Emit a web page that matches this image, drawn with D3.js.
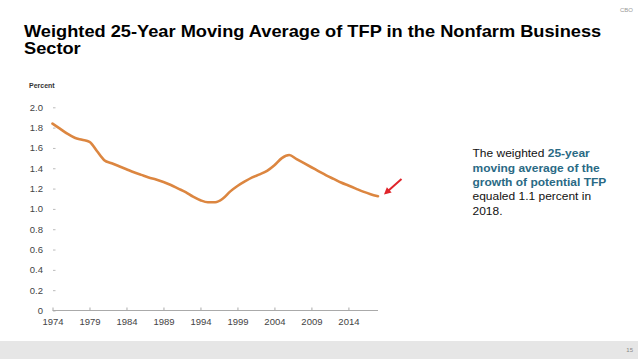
<!DOCTYPE html>
<html><head><meta charset="utf-8">
<script src="https://cdn.jsdelivr.net/npm/d3@7"></script>
<style>body{margin:0;background:#fff}svg{display:block;font-family:"Liberation Sans",Arial,sans-serif}</style>
</head><body>
<svg id="c" width="638" height="359"></svg>
<script>
const years = [1974,1975,1976,1977,1978,1979,1980,1981,1982,1983,1984,1985,1986,1987,1988,1989,1990,1991,1992,1993,1994,1995,1996,1997,1998,1999,2000,2001,2002,2003,2004,2005,2006,2007,2008,2009,2010,2011,2012,2013,2014,2015,2016,2017,2018];
const tfp = [1.84,1.79,1.74,1.70,1.68,1.66,1.57,1.48,1.45,1.42,1.39,1.36,1.335,1.31,1.29,1.265,1.235,1.20,1.165,1.12,1.085,1.065,1.065,1.10,1.17,1.225,1.27,1.31,1.34,1.375,1.43,1.50,1.53,1.49,1.45,1.41,1.37,1.33,1.295,1.26,1.23,1.20,1.17,1.145,1.125];
const xTicks = [1974,1979,1984,1989,1994,1999,2004,2009,2014];
const yTicks = [0,0.2,0.4,0.6,0.8,1.0,1.2,1.4,1.6,1.8,2.0];
const titleLines = ["Weighted 25-Year Moving Average of TFP in the Nonfarm Business","Sector"];
const yLabel = "Percent";

const svg = d3.select("#c");
const x = d3.scaleLinear().domain([1974,2018]).range([52.5,378]);
const y = d3.scaleLinear().domain([0,2]).range([310.5,107.3]);

// footer band
svg.append("rect").attr("x",0).attr("y",341).attr("width",638).attr("height",18).attr("fill","#e6e6e6");
svg.append("text").attr("x",633).attr("y",352).attr("text-anchor","end").attr("font-size",6).attr("fill","#888").text("15");
svg.append("text").attr("x",633).attr("y",12).attr("text-anchor","end").attr("font-size",6).attr("fill","#999").text("CBO");

// title
titleLines.forEach((t,i)=>{
  svg.append("text").attr("transform",`translate(24,${37+i*17}) scale(1.14,1)`)
    .attr("font-size",16).attr("font-weight","bold").attr("fill","#000").text(t);
});

// y label
svg.append("text").attr("x",29).attr("y",88).attr("font-size",7).attr("font-weight","bold").attr("fill","#333").text(yLabel);

// y axis
const ya = svg.append("g").attr("transform","translate(53,0)")
  .call(d3.axisRight(y).tickValues(yTicks).tickSize(2.5).tickFormat(d=>d===0?"0":d3.format(".1f")(d)));
ya.select(".domain").remove();
ya.selectAll(".tick line").attr("stroke","#bbb");
ya.selectAll(".tick text").attr("x",-10).attr("text-anchor","end").attr("font-size",9.5).attr("fill","#444").attr("font-family","Liberation Sans, Arial");

// x axis
const xa = svg.append("g").attr("transform",`translate(0,${y(0)})`)
  .call(d3.axisTop(x).tickValues(xTicks).tickSize(3).tickFormat(d3.format("d")));
xa.select(".domain").attr("stroke","#aaa").attr("d",`M${x(1974)},0H${x(2018)}`);
xa.selectAll(".tick line").attr("stroke","#aaa");
xa.selectAll(".tick text").attr("y",14.5).attr("dy",0).attr("font-size",9.5).attr("fill","#444").attr("font-family","Liberation Sans, Arial");

// line
svg.append("path").datum(years.map((d,i)=>[d,tfp[i]]))
  .attr("fill","none").attr("stroke","#dc8640").attr("stroke-width",2.6)
  .attr("stroke-linejoin","round").attr("stroke-linecap","round")
  .attr("d",d3.line().x(d=>x(d[0])).y(d=>y(d[1])).curve(d3.curveMonotoneX));

// arrow
const ax0=401.5, ay0=179, ax1=384, ay1=194.5;
svg.append("line").attr("x1",ax0).attr("y1",ay0).attr("x2",ax1+4).attr("y2",ay1-3.5).attr("stroke","#e0242a").attr("stroke-width",2);
const ang=Math.atan2(ay1-ay0,ax1-ax0);
const hl=7, hw=3.6;
const bx=ax1-hl*Math.cos(ang), by=ay1-hl*Math.sin(ang);
svg.append("path").attr("fill","#e0242a")
  .attr("d",`M${ax1},${ay1}L${bx+hw*Math.sin(ang)},${by-hw*Math.cos(ang)}L${bx-hw*Math.sin(ang)},${by+hw*Math.cos(ang)}Z`);

// annotation
const ann = [
  [["The weighted ",false],["25-year",true]],
  [["moving average of the",true]],
  [["growth of potential TFP",true]],
  [["equaled 1.1 percent in",false]],
  [["2018.",false]]
];
ann.forEach((line,i)=>{
  const t = svg.append("text").attr("transform",`translate(472.5,${157.3+i*14.3}) scale(1.09,1)`).attr("font-size",11);
  line.forEach(([s,b])=>{
    t.append("tspan").attr("font-weight",b?"bold":"normal").attr("fill",b?"#2a6a85":"#111").text(s);
  });
});
</script>
</body></html>
